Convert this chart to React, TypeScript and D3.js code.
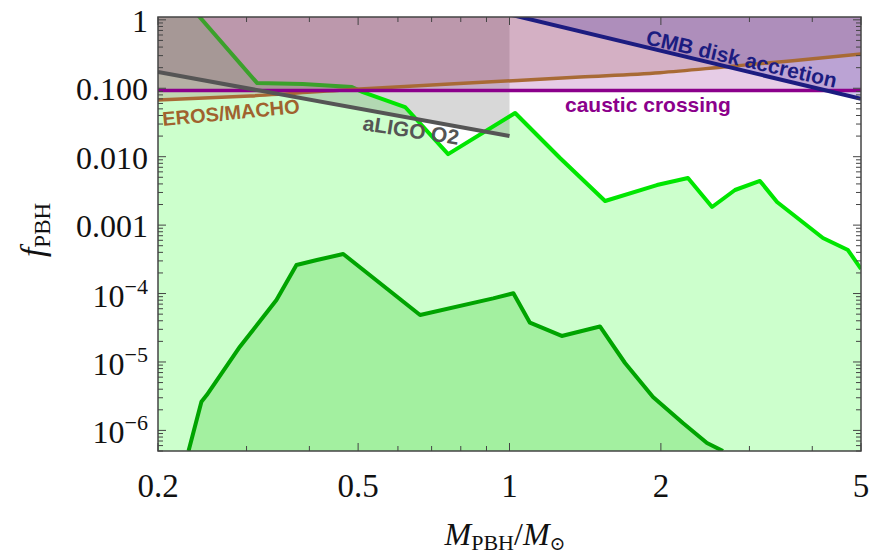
import React from "react";
import * as d3 from "d3";

// ---- data ----
const upperMass = [0.2, 0.242, 0.315, 0.388, 0.486, 0.511, 0.62, 0.755, 1.026, 1.26, 1.549, 1.964, 2.264, 2.528, 2.808, 3.148, 3.404, 4.2, 4.71, 5.0];
const upperF = [5.7, 1.1, 0.119, 0.115, 0.104, 0.088, 0.0532, 0.0109, 0.0435, 0.00957, 0.00225, 0.00385, 0.00487, 0.00184, 0.00326, 0.00442, 0.00218, 0.000649, 0.000432, 0.000229];

const lowerMass = [0.23, 0.244, 0.25, 0.291, 0.344, 0.377, 0.414, 0.467, 0.664, 0.928, 1.018, 1.098, 1.27, 1.513, 1.697, 1.929, 2.212, 2.47, 2.658];
const lowerF = [5e-7, 2.63e-6, 3.29e-6, 1.67e-5, 8.05e-5, 2.61e-4, 3.09e-4, 3.78e-4, 4.85e-5, 8.5e-5, 1.01e-4, 3.75e-5, 2.4e-5, 3.3e-5, 9.66e-6, 3.08e-6, 1.28e-6, 6.55e-7, 5e-7];

const ligoMass = [0.2, 1.0];
const ligoF = [0.173, 0.02];

const causticF = 0.093;

const erosMass = [0.2, 0.305, 0.504, 0.761, 1.381, 1.99, 2.71, 3.66, 5.0];
const erosF = [0.0673, 0.0771, 0.0975, 0.115, 0.146, 0.169, 0.207, 0.253, 0.317];

const cmbMass = [1.0, 5.0];
const cmbF = [1.2, 0.07];

const xTickValues = [0.2, 0.5, 1, 2, 5];
const xTickLabels = ["0.2", "0.5", "1", "2", "5"];
const xMinorValues = [0.3, 0.4, 0.6, 0.7, 0.8, 0.9, 3, 4];

const yTickValues = [1, 0.1, 0.01, 0.001, 1e-4, 1e-5, 1e-6];
const yTickLabels = ["1", "0.100", "0.010", "0.001", "10|−4", "10|−5", "10|−6"];

const W = 876;
const H = 558;
const L = 158, R = 861, T = 17, B = 451;

const zip = (a: number[], b: number[]) => a.map((v, i) => [v, b[i]] as [number, number]);

export default function App() {
  const x = d3.scaleLog().domain([0.2, 5]).range([L, R]);
  const y = d3.scaleLog().domain([5e-7, 1.1]).range([B, T]);

  const line = d3.line<[number, number]>().x(d => x(d[0])).y(d => y(d[1]));
  const smooth = d3.line<[number, number]>().x(d => x(d[0])).y(d => y(d[1])).curve(d3.curveMonotoneX);
  const areaBelow = d3.area<[number, number]>().x(d => x(d[0])).y0(B + 5).y1(d => y(d[1]));
  const areaAbove = d3.area<[number, number]>().x(d => x(d[0])).y0(T - 60).y1(d => y(d[1]));
  const areaAboveSmooth = d3.area<[number, number]>().x(d => x(d[0])).y0(T - 60).y1(d => y(d[1])).curve(d3.curveMonotoneX);

  const upper = zip(upperMass, upperF);
  const lower = zip(lowerMass, lowerF);
  const ligo = zip(ligoMass, ligoF);
  const eros = zip(erosMass, erosF);
  const cmb = zip(cmbMass, cmbF);
  const caustic: [number, number][] = [[0.2, causticF], [5, causticF]];

  const yMinor: number[] = [];
  for (let d = -7; d <= 0; d++) {
    for (let k = 2; k <= 9; k++) {
      const v = k * Math.pow(10, d);
      if (v >= 5e-7 && v <= 1.1) yMinor.push(v);
    }
  }

  const axisColor = "#444";
  const tickFont = "'Liberation Serif', 'DejaVu Serif', serif";
  const labelFont = "'Liberation Sans', Arial, sans-serif";

  return (
    <svg width={W} height={H} style={{ position: "absolute", left: 0, top: 0, background: "#fff" }}>
      <defs>
        <clipPath id="plot">
          <rect x={L} y={T} width={R - L} height={B - T} />
        </clipPath>
      </defs>
      <g clipPath="url(#plot)">
        <path d={areaBelow(upper) || ""} fill="#ccffcc" />
        <path d={areaBelow(lower) || ""} fill="#a3f0a0" />
        <path d={line(lower) || ""} fill="none" stroke="#00a400" strokeWidth={4} strokeLinejoin="round" />
        <path d={areaAbove(ligo) || ""} fill="rgba(100,100,100,0.25)" />
        <path d={line(upper) || ""} fill="none" stroke="#00e600" strokeWidth={4} strokeLinejoin="round" />
        <path d={areaAbove(caustic) || ""} fill="rgba(128,0,128,0.2)" />
        <path d={areaAboveSmooth(eros) || ""} fill="rgba(160,90,95,0.25)" />
        <path d={areaAbove(cmb) || ""} fill="rgba(60,40,160,0.25)" />
        <path d={smooth(eros) || ""} fill="none" stroke="#a86a35" strokeWidth={3.5} />
        <path d={line(caustic) || ""} fill="none" stroke="#8b008b" strokeWidth={3.5} />
        <path d={line(ligo) || ""} fill="none" stroke="#555555" strokeWidth={4} />
        <path d={line(cmb) || ""} fill="none" stroke="#1c1c80" strokeWidth={4} />

        <text x={163} y={126} transform={`rotate(-5.4 163 126)`} fontFamily={labelFont} fontWeight="bold" fontSize={20} fill="#a0622e">EROS/MACHO</text>
        <text x={565} y={112} fontFamily={labelFont} fontWeight="bold" fontSize={21} fill="#8b008b">caustic crossing</text>
        <text x={362} y={130} transform={`rotate(8.8 362 130)`} fontFamily={labelFont} fontWeight="bold" fontSize={21} fill="#555555">aLIGO O2</text>
        <text x={645} y={44} transform={`rotate(13 645 44)`} fontFamily={labelFont} fontWeight="bold" fontSize={21} fill="#1c1c80">CMB disk accretion</text>
      </g>

      <rect x={L} y={T} width={R - L} height={B - T} fill="none" stroke={axisColor} strokeWidth={1.5} />

      {xTickValues.map(v => (
        <g key={"xt" + v}>
          <line x1={x(v)} x2={x(v)} y1={B} y2={B - 8} stroke={axisColor} strokeWidth={1} />
          <line x1={x(v)} x2={x(v)} y1={T} y2={T + 8} stroke={axisColor} strokeWidth={1} />
        </g>
      ))}
      {xMinorValues.map(v => (
        <g key={"xm" + v}>
          <line x1={x(v)} x2={x(v)} y1={B} y2={B - 5} stroke={axisColor} strokeWidth={1} />
          <line x1={x(v)} x2={x(v)} y1={T} y2={T + 5} stroke={axisColor} strokeWidth={1} />
        </g>
      ))}
      {xTickValues.map((v, i) => (
        <text key={"xl" + v} x={x(v)} y={497} textAnchor="middle" fontFamily={tickFont} fontSize={33} fill="#111">{xTickLabels[i]}</text>
      ))}

      {yTickValues.map(v => (
        <g key={"yt" + v}>
          <line x1={L} x2={L + 8} y1={y(v)} y2={y(v)} stroke={axisColor} strokeWidth={1} />
          <line x1={R} x2={R - 8} y1={y(v)} y2={y(v)} stroke={axisColor} strokeWidth={1} />
        </g>
      ))}
      {yMinor.map(v => (
        <g key={"ym" + v}>
          <line x1={L} x2={L + 5} y1={y(v)} y2={y(v)} stroke={axisColor} strokeWidth={1} />
          <line x1={R} x2={R - 5} y1={y(v)} y2={y(v)} stroke={axisColor} strokeWidth={1} />
        </g>
      ))}
      {yTickValues.map((v, i) => {
        const lab = yTickLabels[i];
        if (lab.includes("|")) {
          const [base, exp] = lab.split("|");
          return (
            <text key={"yl" + v} x={148} y={y(v) + 13} textAnchor="end" fontFamily={tickFont} fontSize={32} fill="#111">
              {base}
              <tspan dy={-13} fontSize={22}>{exp}</tspan>
            </text>
          );
        }
        return (
          <text key={"yl" + v} x={148} y={y(v) + 12} textAnchor="end" fontFamily={tickFont} fontSize={32} fill="#111">{lab}</text>
        );
      })}

      <text x={505} y={545} textAnchor="middle" fontFamily={tickFont} fontSize={32} fill="#111">
        <tspan fontStyle="italic">M</tspan>
        <tspan fontSize={22} dy={5}>PBH</tspan>
        <tspan dy={-5}>/</tspan>
        <tspan fontStyle="italic">M</tspan>
        <tspan fontSize={19} dy={5}>⊙</tspan>
      </text>
      <text transform="translate(44,230) rotate(-90)" textAnchor="middle" fontFamily={tickFont} fontSize={34} fill="#111">
        <tspan fontStyle="italic">f</tspan>
        <tspan fontSize={23} dy={6}>PBH</tspan>
      </text>
    </svg>
  );
}
